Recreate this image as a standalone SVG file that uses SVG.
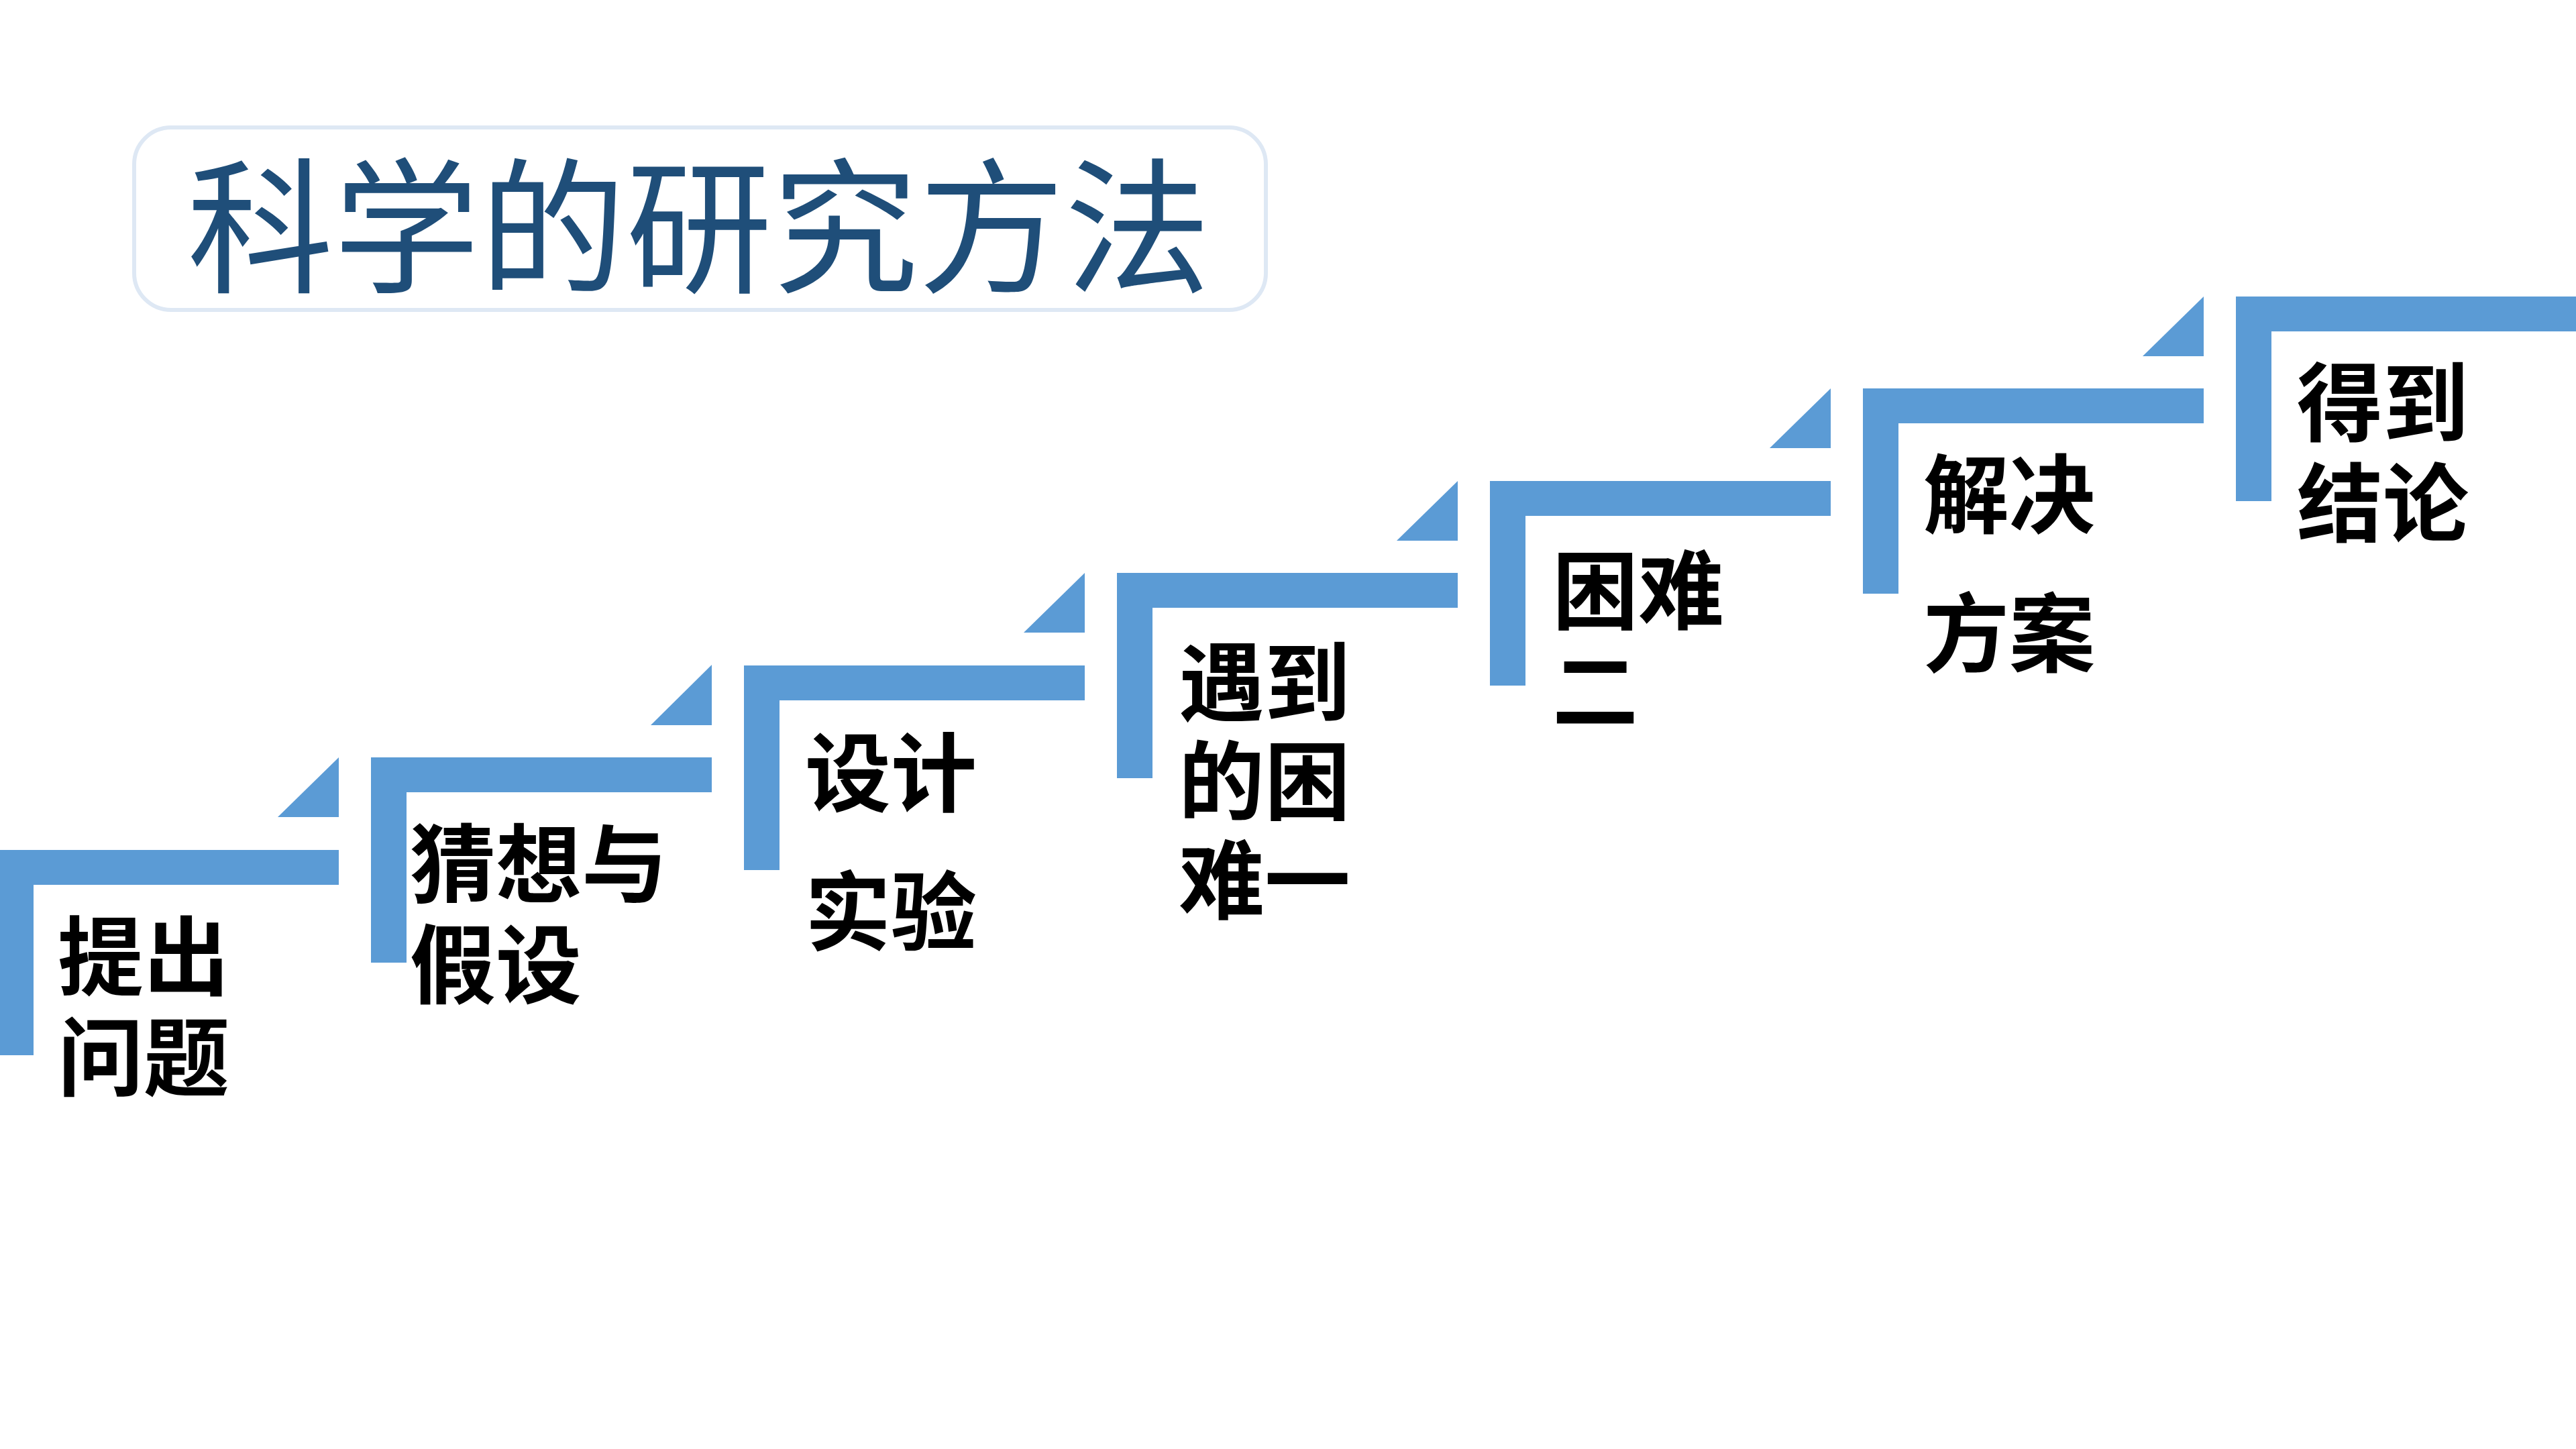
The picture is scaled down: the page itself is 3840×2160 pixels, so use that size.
<svg xmlns="http://www.w3.org/2000/svg" width="3840" height="2160" viewBox="0 0 3840 2160">
<style>
.bar{fill:#5B9BD5}
.lbl{font-family:"Noto Sans CJK SC","Noto Sans",sans-serif;font-weight:700;font-size:128px;fill:#000}
.ttl{font-family:"Noto Sans CJK SC","Noto Sans",sans-serif;font-weight:400;font-size:218px;fill:#1F4E79}
</style>
<rect x="0" y="0" width="3840" height="2160" fill="#FFFFFF"/>
<g id="title">
<rect x="200" y="190" width="1687" height="272" rx="55" ry="55" fill="#FFFFFF" stroke="#DEE8F4" stroke-width="6"/>
<text class="ttl" x="279" y="420">科学的研究方法</text>
</g>
<g id="connectors">
<polygon class="bar" points="414,1218 505,1129 505,1218"/>
<polygon class="bar" points="970,1081 1061,991 1061,1081"/>
<polygon class="bar" points="1526,943 1617,854 1617,943"/>
<polygon class="bar" points="2082,806 2173,717 2173,806"/>
<polygon class="bar" points="2638,668 2729,579 2729,668"/>
<polygon class="bar" points="3194,531 3285,442 3285,531"/>
</g>
<g id="step1">
<path class="bar" d="M-3,1267 H505 V1319 H50 V1573 H-3 Z"/>
<text class="lbl" x="86" y="1474">提出</text>
<text class="lbl" x="86" y="1624">问题</text>
</g>
<g id="step2">
<path class="bar" d="M553,1129 H1061 V1181 H606 V1435 H553 Z"/>
<text class="lbl" x="611" y="1336">猜想与</text>
<text class="lbl" x="611" y="1486">假设</text>
</g>
<g id="step3">
<path class="bar" d="M1109,992 H1617 V1044 H1162 V1297 H1109 Z"/>
<text class="lbl" x="1200" y="1200">设计</text>
<text class="lbl" x="1200" y="1407">实验</text>
</g>
<g id="step4">
<path class="bar" d="M1665,854 H2173 V906 H1718 V1160 H1665 Z"/>
<text class="lbl" x="1757" y="1065">遇到</text>
<text class="lbl" x="1757" y="1212">的困</text>
<text class="lbl" x="1757" y="1360">难一</text>
</g>
<g id="step5">
<path class="bar" d="M2221,717 H2729 V769 H2274 V1022 H2221 Z"/>
<text class="lbl" x="2314" y="928">困难</text>
<text class="lbl" x="2314" y="1078">二</text>
</g>
<g id="step6">
<path class="bar" d="M2777,579 H3285 V631 H2830 V885 H2777 Z"/>
<text class="lbl" x="2867" y="785">解决</text>
<text class="lbl" x="2867" y="992">方案</text>
</g>
<g id="step7">
<path class="bar" d="M3333,442 H3841 V494 H3386 V747 H3333 Z"/>
<text class="lbl" x="3424" y="648">得到</text>
<text class="lbl" x="3424" y="798">结论</text>
</g>
</svg>
